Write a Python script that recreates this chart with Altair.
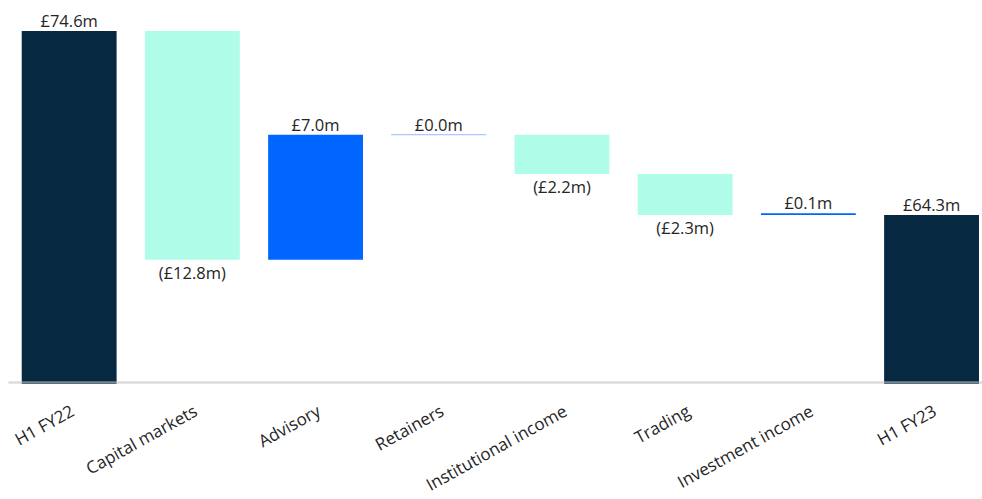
import altair as alt
import pandas as pd

categories = ["H1 FY22", "Capital markets", "Advisory", "Retainers",
              "Institutional income", "Trading", "Investment income", "H1 FY23"]
values = [74.6, -12.8, 7.0, 0.0, -2.2, -2.3, 0.1, 64.3]
is_total = [True, False, False, False, False, False, False, True]
labels = ["£74.6m", "(£12.8m)", "£7.0m", "£0.0m", "(£2.2m)", "(£2.3m)", "£0.1m", "£64.3m"]

Y_MIN, Y_MAX = 54.84, 76.34

rows = []
running = 0.0
for cat, v, tot, lab in zip(categories, values, is_total, labels):
    if tot:
        start, end = Y_MIN, v
        running = v
        kind = "total"
    else:
        start = running
        end = running + v
        running = end
        kind = "zero" if v == 0 else ("increase" if v > 0 else "decrease")
    rows.append({"cat": cat, "start": start, "end": end, "kind": kind, "label": lab,
                 "top": max(start, end) if not tot else v,
                 "bottom": min(start, end)})
df = pd.DataFrame(rows)

kinds = ["total", "increase", "decrease", "zero"]
colors = ["#062840", "#0066FF", "#AFFDE9", "#A9C8FF"]

FONT = "Open Sans"
FS = 16.5

x = alt.X("cat:N", sort=categories, title=None,
          scale=alt.Scale(paddingInner=0.23, paddingOuter=0.068, align=0.82),
          axis=alt.Axis(labelAngle=-29, labelAlign="right", labelBaseline="top",
                        labelPadding=21, ticks=False, labelFontSize=17,
                        labelFont=FONT, labelColor="#252525",
                        domainColor="#c4c4c4", domainWidth=2.5, domainOpacity=0.6,
                        offset=-2, zindex=1, labelOverlap=False))
yscale = alt.Scale(domain=[Y_MIN, Y_MAX], zero=False, nice=False, clamp=True)

base = alt.Chart(df)

bars = base.mark_bar().encode(
    x=x,
    y=alt.Y("start:Q", scale=yscale, axis=None, title=None),
    y2="end:Q",
    color=alt.Color("kind:N", scale=alt.Scale(domain=kinds, range=colors), legend=None),
    stroke=alt.Stroke("kind:N", scale=alt.Scale(domain=kinds, range=colors), legend=None),
    strokeWidth=alt.condition("datum.kind == 'zero'", alt.value(1), alt.value(0)),
)

text_up = base.transform_filter("datum.kind != 'decrease'").mark_text(
    baseline="alphabetic", dy=-4, fontSize=FS, font=FONT, color="#252525"
).encode(x=alt.X("cat:N", sort=categories), y=alt.Y("top:Q", scale=yscale), text="label:N")

text_down = base.transform_filter("datum.kind == 'decrease'").mark_text(
    baseline="top", dy=6, fontSize=FS, font=FONT, color="#252525"
).encode(x=alt.X("cat:N", sort=categories), y=alt.Y("bottom:Q", scale=yscale), text="label:N")

chart = alt.layer(bars, text_up, text_down).properties(
    width=974, height=384,
    autosize=alt.AutoSizeParams(type="none"),
    padding={"left": 8, "top": 0, "right": 0, "bottom": 115},
).configure(background="white", view=alt.ViewConfig(stroke=None, strokeWidth=0))

chart.save("out.html", embed_options={"renderer": "svg", "actions": False})
